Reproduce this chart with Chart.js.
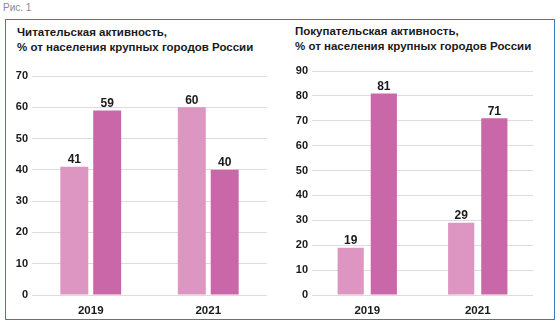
<!DOCTYPE html>
<html>
<head>
<meta charset="utf-8">
<script src="https://cdn.jsdelivr.net/npm/chart.js@4.4.0/dist/chart.umd.min.js"></script>
<style>
  html, body { margin:0; padding:0; background:#fff; }
  body { width:560px; height:324px; position:relative; overflow:hidden; font-family:Arial, "Liberation Sans", sans-serif; }
  .fig { position:absolute; left:3px; top:2px; font-size:10px; color:#8a8a8a; }
  .frame { position:absolute; left:5px; top:19px; width:548px; height:299px; border:1.5px solid #3b7cc0; box-sizing:content-box; }
  .title { position:absolute; font-weight:bold; font-size:11.5px; line-height:15px; color:#1a1a1a; white-space:nowrap; }
  canvas { position:absolute; }
</style>
</head>
<body>
<div class="fig">Рис. 1</div>
<div class="frame"></div>
<div class="title" style="left:17px; top:25px;">Читательская активность,<br>% от населения крупных городов России</div>
<div class="title" style="left:295px; top:24px;">Покупательская активность,<br>% от населения крупных городов России</div>
<div style="position:absolute; left:6px; top:60px; width:272px; height:260px;"><canvas id="readChart"></canvas></div>
<div style="position:absolute; left:286px; top:60px; width:268px; height:260px;"><canvas id="buyChart"></canvas></div>
<script>
/* two grouped bar panels: reading and buying activity */

const YEARS      = ['2019', '2021'];
const READ_A     = [41, 60];
const READ_B     = [59, 40];
const READ_TICKS = [0, 10, 20, 30, 40, 50, 60, 70];
const BUY_A      = [19, 29];
const BUY_B      = [81, 71];
const BUY_TICKS  = [0, 10, 20, 30, 40, 50, 60, 70, 80, 90];

const LIGHT = '#dc96c1';
const DARK  = '#c967a8';
const FONT  = 'Arial, "Liberation Sans", sans-serif';

// value above each bar
const barValues = {
  id: 'barValues',
  afterDatasetsDraw(chart) {
    const ctx = chart.ctx;
    ctx.save();
    ctx.font = 'bold 12px ' + FONT;
    ctx.fillStyle = '#1a1a1a';
    ctx.textAlign = 'center';
    ctx.textBaseline = 'bottom';
    chart.data.datasets.forEach((ds, i) => {
      chart.getDatasetMeta(i).data.forEach((bar, j) => {
        ctx.fillText(ds.data[j], bar.x, bar.y - 1);
      });
    });
    ctx.restore();
  }
};

function buildPanel(id, a, b, ticks, o) {
  const max = ticks[ticks.length - 1];
  new Chart(document.getElementById(id), {
    type: 'bar',
    data: { labels: YEARS, datasets: [
      { data: a, backgroundColor: LIGHT },
      { data: b, backgroundColor: DARK },
    ] },
    options: {
      responsive: true, maintainAspectRatio: false, animation: false,
      categoryPercentage: o.cp, barPercentage: o.bp,
      layout: { padding: { top: o.top, right: o.right, left: 0, bottom: 0 } },
      plugins: { legend: { display: false }, tooltip: { enabled: false } },
      scales: {
        x: {
          grid: { display: false, drawTicks: false }, border: { display: false },
          ticks: { color: '#1a1a1a', font: { family: FONT, size: 11.5, weight: 'bold' }, padding: 9 },
          afterFit: s => { s.height = 25; }
        },
        y: {
          min: 0, max: max,
          grid: { color: '#dcdcdc', lineWidth: 1, drawTicks: false }, border: { display: false },
          afterBuildTicks: s => { s.ticks = ticks.map(v => ({ value: v })); },
          ticks: { color: '#1a1a1a', font: { family: FONT, size: 11, weight: 'bold' }, padding: 4 },
          afterFit: s => { s.width = o.yw; }
        }
      }
    },
    plugins: [barValues]
  });
}

buildPanel('readChart', READ_A, READ_B, READ_TICKS, { cp: 0.56, bp: 0.85, top: 16, right: 11, yw: 26 });
buildPanel('buyChart',  BUY_A,  BUY_B,  BUY_TICKS,  { cp: 0.60, bp: 0.79, top: 11, right: 21, yw: 26 });
</script>
</body>
</html>
